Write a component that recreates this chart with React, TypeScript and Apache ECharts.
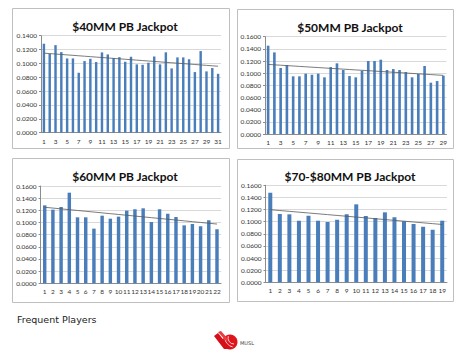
import React, { useEffect, useRef } from "react";
import * as echarts from "echarts";

const cats40 = ["1","2","3","4","5","6","7","8","9","10","11","12","13","14","15","16","17","18","19","20","21","22","23","24","25","26","27","28","29","30","31"];
const vals40 = [0.1284,0.1140,0.1264,0.1163,0.1072,0.1072,0.0865,0.1034,0.1067,0.1020,0.1159,0.1130,0.1077,0.1090,0.1024,0.1096,0.0986,0.0980,0.1010,0.1100,0.0986,0.1160,0.0928,0.1087,0.1087,0.1060,0.0875,0.1178,0.0885,0.0933,0.0850];

const cats50 = ["1","2","3","4","5","6","7","8","9","10","11","12","13","14","15","16","17","18","19","20","21","22","23","24","25","26","27","28","29"];
const vals50 = [0.1452,0.1342,0.1085,0.1134,0.0948,0.0948,0.0992,0.0975,0.0992,0.0932,0.1100,0.1162,0.1052,0.0953,0.0932,0.1040,0.1200,0.1200,0.1222,0.1052,0.1068,0.1052,0.1019,0.0932,0.0986,0.1118,0.0844,0.0871,0.0959];

const cats60 = ["1","2","3","4","5","6","7","8","9","10","11","12","13","14","15","16","17","18","19","20","21","22"];
const vals60 = [0.1282,0.1211,0.1255,0.1490,0.1085,0.1085,0.0899,0.1112,0.1063,0.1096,0.1195,0.1216,0.1233,0.1008,0.1216,0.1145,0.1090,0.0953,0.0975,0.0937,0.1036,0.0888];

const cats70 = ["1","2","3","4","5","6","7","8","9","10","11","12","13","14","15","16","17","18","19"];
const vals70 = [0.1478,0.1126,0.1121,0.1016,0.1099,0.1016,0.0995,0.1033,0.1121,0.1286,0.1093,0.1060,0.1154,0.1071,0.1005,0.0962,0.0918,0.0868,0.1016];

const titles = ["$40MM PB Jackpot", "$50MM PB Jackpot", "$60MM PB Jackpot", "$70-$80MM PB Jackpot"];
const yMaxes = [0.14, 0.16, 0.16, 0.16];
const footerText = "Frequent Players";
const logoText = "MUSL";

function trend(v: number[]): number[] {
  const n = v.length;
  let sx = 0, sy = 0, sxx = 0, sxy = 0;
  for (let i = 0; i < n; i++) { sx += i; sy += v[i]; sxx += i * i; sxy += i * v[i]; }
  const b = (n * sxy - sx * sy) / (n * sxx - sx * sx);
  const a = (sy - b * sx) / n;
  return v.map((_, i) => +(a + b * i).toFixed(5));
}

export default function App() {
  const ref = useRef<HTMLDivElement>(null);
  useEffect(() => {
    document.body.style.margin = "0";
    const chart = echarts.init(ref.current!, null, { renderer: "svg" });
    const font = "Lato, 'Open Sans', sans-serif";
    const panels = [
      { cats: cats40, vals: vals40, grid: { left: 41, top: 35.7, width: 180, height: 97 }, box: [12, 8, 217, 140], tx: 120, ty: 15, interval: 1 },
      { cats: cats50, vals: vals50, grid: { left: 265, top: 36.7, width: 181.5, height: 97.3 }, box: [237, 9, 216, 139], tx: 345, ty: 16, interval: 1 },
      { cats: cats60, vals: vals60, grid: { left: 40.6, top: 186, width: 180.5, height: 97.3 }, box: [12, 158, 217, 144], tx: 120, ty: 165, interval: 0 },
      { cats: cats70, vals: vals70, grid: { left: 265.5, top: 185.3, width: 181.5, height: 97 }, box: [237, 159, 216, 142], tx: 345, ty: 165, interval: 0 },
    ];
    const grid: any[] = [], xAxis: any[] = [], yAxis: any[] = [], series: any[] = [], title: any[] = [];
    const graphics: any[] = [];
    panels.forEach((p, i) => {
      graphics.push({ type: "rect", shape: { x: p.box[0] + 0.5, y: p.box[1] + 0.5, width: p.box[2], height: p.box[3] }, style: { fill: "#fff", stroke: "#bfbfbf", lineWidth: 1 }, z: -10 });
      grid.push({ ...p.grid, containLabel: false });
      title.push({ text: titles[i], left: p.tx, top: p.ty, textAlign: "center", textStyle: { fontFamily: font, fontWeight: "bold", fontSize: 12, color: "#111" } });
      xAxis.push({
        type: "category", gridIndex: i, data: p.cats,
        axisLine: { lineStyle: { color: "#8c8c8c", width: 1 } },
        axisTick: { show: false },
        axisLabel: { interval: p.interval, fontSize: 6.5, fontFamily: font, color: "#333", margin: 5 },
      });
      yAxis.push({
        type: "value", gridIndex: i, min: 0, max: yMaxes[i], interval: 0.02,
        axisLine: { show: true, lineStyle: { color: "#8c8c8c", width: 1 } },
        axisTick: { show: true, length: 2, lineStyle: { color: "#8c8c8c" } },
        splitLine: { lineStyle: { color: "#d9d9d9", width: 1 } },
        axisLabel: { fontSize: 6.5, fontFamily: font, color: "#333", margin: 4, formatter: (v: number) => v.toFixed(4) },
      });
      series.push({
        type: "bar", xAxisIndex: i, yAxisIndex: i, data: p.vals, barCategoryGap: "58%",
        itemStyle: { color: "#4a7ebb" },
      });
      series.push({
        type: "line", xAxisIndex: i, yAxisIndex: i, data: trend(p.vals), symbol: "none",
        lineStyle: { color: "#595959", width: 0.8 }, z: 5,
      });
    });
    // footer
    graphics.push({ type: "text", left: 17, top: 314, style: { text: footerText, font: "9.5px Verdana, 'DejaVu Sans', sans-serif", fill: "#222" } });
    // logo
    graphics.push({ type: "circle", shape: { cx: 230, cy: 342, r: 7.5 }, style: { fill: "#e0141b" } });
    graphics.push({ type: "arc", shape: { cx: 234, cy: 338, r: 6, startAngle: Math.PI * 0.5, endAngle: Math.PI * 1.1 }, style: { stroke: "#fff", lineWidth: 0.8, fill: "none" } });
    graphics.push({ type: "arc", shape: { cx: 234, cy: 338, r: 9, startAngle: Math.PI * 0.55, endAngle: Math.PI * 1.0 }, style: { stroke: "#fff", lineWidth: 0.8, fill: "none" } });
    graphics.push({ type: "polygon", shape: { points: [[214, 336], [218, 333], [226, 343], [232, 349], [224, 349]] }, style: { fill: "#d40f18" } });
    graphics.push({ type: "polygon", shape: { points: [[218, 332], [221, 331], [228, 339], [227, 342]] }, style: { fill: "#e83a3f" } });
    graphics.push({ type: "text", left: 240, top: 340, style: { text: logoText, font: "5px 'DejaVu Sans', sans-serif", fill: "#444" } });

    chart.setOption({
      animation: false,
      backgroundColor: "#fff",
      title, grid, xAxis, yAxis, series,
      graphic: graphics,
    });
    return () => chart.dispose();
  }, []);
  return <div ref={ref} style={{ position: "absolute", left: 0, top: 0, width: 474, height: 355 }} />;
}
